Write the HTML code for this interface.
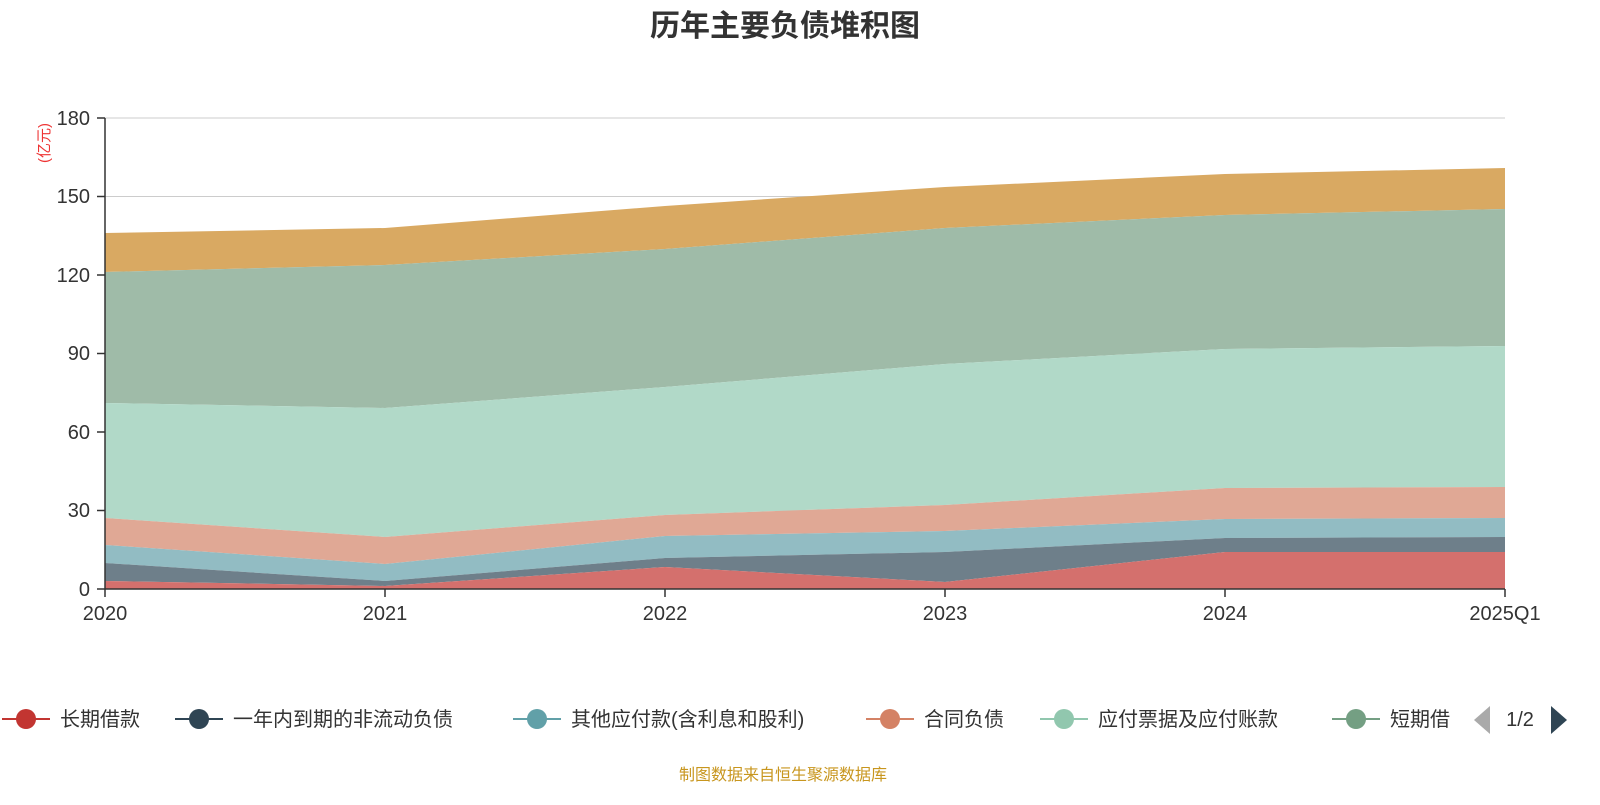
<!DOCTYPE html>
<html><head><meta charset="utf-8"><style>
body{margin:0;background:#fff;width:1600px;height:800px;overflow:hidden;font-family:"Liberation Sans","Noto Sans CJK SC",sans-serif}
</style></head><body>
<svg width="1600" height="800" xmlns="http://www.w3.org/2000/svg" font-family="Liberation Sans, Noto Sans CJK SC, sans-serif">
<text x="785" y="36" text-anchor="middle" font-size="30" font-weight="bold" fill="#333">历年主要负债堆积图</text>
<g stroke="#ccc" stroke-width="1">
<line x1="105" y1="118" x2="1505" y2="118"/><line x1="105" y1="196.5" x2="1505" y2="196.5"/>
<line x1="105" y1="275" x2="1505" y2="275"/><line x1="105" y1="353.5" x2="1505" y2="353.5"/>
<line x1="105" y1="432" x2="1505" y2="432"/><line x1="105" y1="510.5" x2="1505" y2="510.5"/>
</g>
<g stroke="none">
<polygon fill="#d9a962" points="105,233 385,228 665,206 945,187 1225,174 1505,168 1505,209 1225,215 945,228 665,249 385,265 105,272"/>
<polygon fill="#9fbba8" points="105,272 385,265 665,249 945,228 1225,215 1505,209 1505,346 1225,349 945,364 665,387 385,408 105,403"/>
<polygon fill="#b1d9c8" points="105,403 385,408 665,387 945,364 1225,349 1505,346 1505,487 1225,488 945,505 665,515 385,537 105,518"/>
<polygon fill="#e0a895" points="105,518 385,537 665,515 945,505 1225,488 1505,487 1505,518 1225,519 945,531 665,536 385,564 105,545"/>
<polygon fill="#92bcc3" points="105,545 385,564 665,536 945,531 1225,519 1505,518 1505,537 1225,538 945,552 665,558 385,581 105,563"/>
<polygon fill="#6e7f8a" points="105,563 385,581 665,558 945,552 1225,538 1505,537 1505,552 1225,552 945,582 665,567 385,586 105,581"/>
<polygon fill="#d4706d" points="105,581 385,586 665,567 945,582 1225,552 1505,552 1505,589 105,589"/>
</g>
<g stroke="#333" stroke-width="1.5" fill="none">
<line x1="105" y1="118" x2="105" y2="589"/><line x1="105" y1="589" x2="1505" y2="589"/>
<line x1="97" y1="118" x2="105" y2="118"/><line x1="97" y1="196.5" x2="105" y2="196.5"/><line x1="97" y1="275" x2="105" y2="275"/><line x1="97" y1="353.5" x2="105" y2="353.5"/><line x1="97" y1="432" x2="105" y2="432"/><line x1="97" y1="510.5" x2="105" y2="510.5"/><line x1="97" y1="589" x2="105" y2="589"/>
<line x1="105" y1="589" x2="105" y2="597"/><line x1="385" y1="589" x2="385" y2="597"/><line x1="665" y1="589" x2="665" y2="597"/><line x1="945" y1="589" x2="945" y2="597"/><line x1="1225" y1="589" x2="1225" y2="597"/><line x1="1505" y1="589" x2="1505" y2="597"/>
</g>
<g font-size="20" fill="#333" text-anchor="end">
<text x="90" y="125">180</text><text x="90" y="203">150</text><text x="90" y="282">120</text><text x="90" y="360">90</text><text x="90" y="439">60</text><text x="90" y="517">30</text><text x="90" y="596">0</text>
</g>
<g font-size="20" fill="#333" text-anchor="middle">
<text x="105" y="620">2020</text><text x="385" y="620">2021</text><text x="665" y="620">2022</text><text x="945" y="620">2023</text><text x="1225" y="620">2024</text><text x="1505" y="620">2025Q1</text>
</g>
<text transform="translate(49,143) rotate(-90)" font-size="15" fill="#e33" text-anchor="middle">(亿元)</text>
<g font-size="20" fill="#333">
<line x1="2" y1="719" x2="50" y2="719" stroke="#c23531" stroke-width="2"/><circle cx="26" cy="719" r="10" fill="#c23531"/><text x="60" y="726">长期借款</text>
<line x1="175" y1="719" x2="223" y2="719" stroke="#2f4554" stroke-width="2"/><circle cx="199" cy="719" r="10" fill="#2f4554"/><text x="233" y="726">一年内到期的非流动负债</text>
<line x1="513" y1="719" x2="561" y2="719" stroke="#61a0a8" stroke-width="2"/><circle cx="537" cy="719" r="10" fill="#61a0a8"/><text x="571" y="726">其他应付款(含利息和股利)</text>
<line x1="866" y1="719" x2="914" y2="719" stroke="#d48265" stroke-width="2"/><circle cx="890" cy="719" r="10" fill="#d48265"/><text x="924" y="726">合同负债</text>
<line x1="1040" y1="719" x2="1088" y2="719" stroke="#91c7ae" stroke-width="2"/><circle cx="1064" cy="719" r="10" fill="#91c7ae"/><text x="1098" y="726">应付票据及应付账款</text>
<line x1="1332" y1="719" x2="1380" y2="719" stroke="#749f83" stroke-width="2"/><circle cx="1356" cy="719" r="10" fill="#749f83"/><text x="1390" y="726">短期借</text>
</g>
<rect x="1452" y="700" width="110" height="40" fill="#fff"/>
<polygon points="1490,706 1490,734 1474,720" fill="#aaa"/>
<text x="1520" y="726" font-size="20" fill="#333" text-anchor="middle">1/2</text>
<polygon points="1551,706 1551,734 1567,720" fill="#2f4554"/>
<text x="783" y="780" font-size="16" fill="#c8961e" text-anchor="middle">制图数据来自恒生聚源数据库</text>
</svg>
</body></html>
